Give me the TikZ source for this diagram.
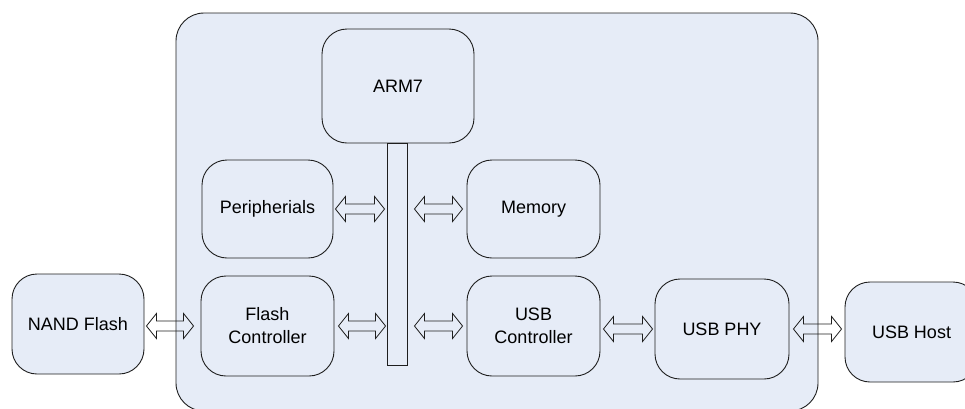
\documentclass[tikz,border=0pt]{standalone}
\usepackage{fontspec}
\setmainfont{Liberation Sans}
\usetikzlibrary{calc}
\definecolor{boxfill}{RGB}{230,236,247}
\definecolor{edge}{RGB}{30,30,30}
\tikzset{
  blk/.style={draw=edge, fill=boxfill, rounded corners=25pt, line width=0.9pt,
    align=center, font=\fontsize{18}{23}\selectfont, inner sep=0pt},
  barrow/.style={draw=edge, line width=0.8pt, line join=miter}
}
\newcommand\dbarrow[2]{%
  \draw[barrow] let \p1=(#1), \p2=(#2) in
    (\x1,\y1) -- (\x1+10pt,\y1+12.5pt) -- (\x1+10pt,\y1+5pt) -- (\x2-10pt,\y1+5pt)
    -- (\x2-10pt,\y1+12.5pt) -- (\x2,\y1) -- (\x2-10pt,\y1-12.5pt) -- (\x2-10pt,\y1-5pt)
    -- (\x1+10pt,\y1-5pt) -- (\x1+10pt,\y1-12.5pt) -- cycle;}
\begin{document}
\begin{tikzpicture}[x=1pt,y=-1pt]
  \clip (0,0) rectangle (965,408);
  \node[blk, rounded corners=28pt, minimum width=642pt, minimum height=398pt] (soc) at (497,212) {};
  \node[blk, minimum width=152pt, minimum height=114pt] (arm) at (398,86) {ARM7};
  \node[draw=edge, fill=boxfill, line width=0.9pt, minimum width=20pt, minimum height=222pt, inner sep=0pt] (bus) at (397,254) {};
  \node[blk, minimum width=131pt, minimum height=98pt] (per) at (267.5,209) {Peripherials};
  \node[blk, minimum width=133pt, minimum height=98pt] (mem) at (533.5,209) {Memory};
  \node[blk, minimum width=133pt, minimum height=100pt] (fc) at (267.5,326) {Flash\\Controller};
  \node[blk, minimum width=133pt, minimum height=100pt] (usbc) at (533.5,326) {USB\\Controller};
  \node[blk, minimum width=134pt, minimum height=100pt] (phy) at (722,329) {USB PHY};
  \node[blk, minimum width=133pt, minimum height=100pt] (host) at (911.5,332) {USB Host};
  \node[blk, minimum width=132pt, minimum height=100pt] (nand) at (78,324) {NAND Flash};
  \dbarrow{$(nand.east |- fc.west)+(2pt,0)$}{$(fc.west)+(-7pt,0)$}
  \dbarrow{$(per.east)+(2pt,0)$}{$(bus.west |- per.east)+(-2pt,0)$}
  \dbarrow{$(bus.east |- mem.west)+(7pt,0)$}{$(mem.west)+(-4pt,0)$}
  \dbarrow{$(fc.east)+(4pt,0)$}{$(bus.west |- fc.east)+(-1pt,0)$}
  \dbarrow{$(bus.east |- usbc.west)+(7pt,0)$}{$(usbc.west)+(-4pt,0)$}
  \dbarrow{$(usbc.east |- phy.west)+(3pt,0)$}{$(phy.west)+(-2pt,0)$}
  \dbarrow{$(phy.east)+(4pt,0)$}{$(host.west)+(-3pt,0)$}
\end{tikzpicture}
\end{document}
